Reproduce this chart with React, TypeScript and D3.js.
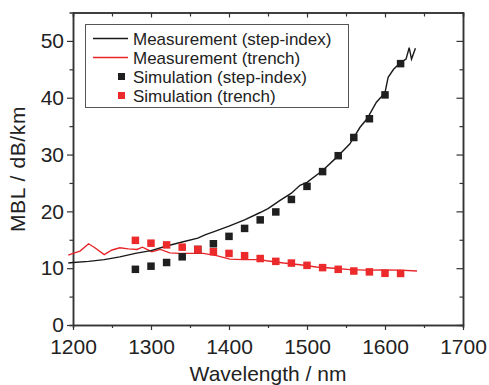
// App.tsx
import { useEffect, useRef } from "react";
import * as d3 from "d3";

// measured curve, step-index fibre
const stepMeasWl = [1194, 1200, 1220, 1240, 1260, 1280, 1300, 1320, 1340, 1360, 1370, 1380, 1400, 1420, 1440, 1450, 1465, 1480, 1491, 1500, 1520, 1538, 1555, 1568, 1577, 1589, 1600, 1604, 1611, 1620, 1627, 1631, 1634, 1639];
const stepMeasVal = [10.9, 11.0, 11.2, 11.5, 12.0, 12.6, 13.1, 13.9, 14.6, 15.3, 15.9, 16.4, 17.4, 18.5, 19.8, 20.5, 21.9, 23.2, 24.6, 25.1, 27.2, 29.5, 31.9, 34.8, 36.3, 39.2, 40.9, 43.6, 45.0, 46.2, 46.8, 48.8, 46.8, 48.7];

// measured curve, trench fibre
const trenchMeasWl = [1194, 1200, 1209, 1220, 1228, 1240, 1250, 1260, 1271, 1282, 1289, 1301, 1312, 1324, 1337, 1354, 1367, 1384, 1401, 1418, 1440, 1448, 1470, 1491, 1512, 1534, 1555, 1576, 1598, 1619, 1641];
const trenchMeasVal = [12.3, 12.6, 13.0, 14.3, 13.6, 12.4, 13.2, 13.6, 13.4, 13.3, 13.7, 12.9, 13.3, 12.7, 12.6, 12.6, 12.6, 12.2, 11.6, 11.5, 11.5, 11.3, 10.9, 10.6, 10.2, 10.0, 9.75, 9.65, 9.7, 9.65, 9.5];

// simulation points
const simWl = [1280, 1300, 1320, 1340, 1360, 1380, 1400, 1420, 1440, 1460, 1480, 1500, 1520, 1540, 1560, 1580, 1600, 1620];
const stepSim = [9.8, 10.35, 11.0, 12.0, 13.3, 14.3, 15.6, 17.0, 18.5, 19.9, 22.1, 24.4, 27.0, 29.8, 33.0, 36.3, 40.5, 46.0];
const trenchSim = [14.9, 14.4, 14.1, 13.7, 13.3, 12.9, 12.6, 12.2, 11.7, 11.2, 10.9, 10.5, 10.1, 9.8, 9.5, 9.35, 9.1, 9.07];

const xTicks = [1200, 1300, 1400, 1500, 1600, 1700];
const yTicks = [0, 10, 20, 30, 40, 50];

const legendItems = [
    { label: "Measurement (step-index)", kind: "line", color: "#1a1a1a" },
    { label: "Measurement (trench)", kind: "line", color: "#e8262a" },
    { label: "Simulation (step-index)", kind: "square", color: "#1f1f1f" },
    { label: "Simulation (trench)", kind: "square", color: "#ec2a2c" },
];

const FONT = "'Liberation Sans', Arial, Helvetica, sans-serif";

export default function App() {
    const ref = useRef<SVGSVGElement | null>(null);

    useEffect(() => {
        const root = d3.select(ref.current);
        root.selectAll("*").remove();

        const margin = { top: 12.5, right: 26, bottom: 60, left: 73 },
            width = 489 - margin.left - margin.right,
            height = 385 - margin.top - margin.bottom;

        const svg = root
            .append("g")
            .attr("transform", `translate(${margin.left}, ${margin.top})`);

        const x = d3.scaleLinear().domain([1200, 1700]).range([0, width]);
        const y = d3.scaleLinear().domain([0, 55]).range([height, 0]);

        const axisColor = "#333";
        const minorX = d3.range(1250, 1700, 100);
        const minorY = d3.range(5, 55, 10);
        const fmt = d3.format("d");

        // bottom axis
        const bottom = svg.append("g").attr("transform", `translate(0, ${height})`);
        bottom.call(d3.axisBottom(x).tickValues(xTicks).tickFormat(fmt).tickSize(5).tickPadding(9).tickSizeOuter(0));
        bottom.append("g").call(d3.axisBottom(x).tickValues(minorX).tickSize(3).tickFormat(() => ""));
        // left axis
        const left = svg.append("g");
        left.call(d3.axisLeft(y).tickValues(yTicks).tickFormat(fmt).tickSize(6).tickPadding(3).tickSizeOuter(0));
        left.append("g").call(d3.axisLeft(y).tickValues(minorY).tickSize(3.5).tickFormat(() => ""));
        // top axis, ticks inward
        const top = svg.append("g");
        top.call(d3.axisTop(x).tickValues(xTicks).tickSize(-5).tickFormat(() => "").tickSizeOuter(0));
        top.append("g").call(d3.axisTop(x).tickValues(minorX).tickSize(-4).tickFormat(() => ""));
        // right axis, ticks inward
        const right = svg.append("g").attr("transform", `translate(${width}, 0)`);
        right.call(d3.axisRight(y).tickValues(yTicks).tickSize(-6.5).tickFormat(() => "").tickSizeOuter(0));
        right.append("g").call(d3.axisRight(y).tickValues(minorY).tickSize(-3.5).tickFormat(() => ""));

        svg.selectAll(".domain").attr("stroke", axisColor).attr("stroke-width", 1.5);
        svg.selectAll(".tick line").attr("stroke", axisColor).attr("stroke-width", 1.2);
        svg.selectAll(".tick text")
            .attr("fill", "#222")
            .style("font-family", FONT)
            .style("font-size", "21px");

        // axis titles
        svg.append("text")
            .attr("x", width / 2)
            .attr("y", height + 56)
            .attr("text-anchor", "middle")
            .style("font-family", FONT)
            .style("font-size", "21px")
            .attr("fill", "#222")
            .text("Wavelength / nm");

        svg.append("text")
            .attr("transform", `translate(${25 - margin.left}, ${169 - margin.top}) rotate(-90)`)
            .attr("text-anchor", "middle")
            .style("font-family", FONT)
            .style("font-size", "21px")
            .style("letter-spacing", "0.6px")
            .attr("fill", "#222")
            .text("MBL / dB/km");

        // measurement lines
        const line = d3.line<[number, number]>()
            .x((d) => x(d[0]))
            .y((d) => y(d[1]));

        const trenchPts = trenchMeasWl.map((w, i) => [w, trenchMeasVal[i]] as [number, number]);
        const stepPts = stepMeasWl.map((w, i) => [w, stepMeasVal[i]] as [number, number]);

        svg.append("path")
            .datum(trenchPts)
            .attr("fill", "none")
            .attr("stroke", "#e8262a")
            .attr("stroke-width", 1.4)
            .attr("d", line);

        svg.append("path")
            .datum(stepPts)
            .attr("fill", "none")
            .attr("stroke", "#1a1a1a")
            .attr("stroke-width", 1.4)
            .attr("d", line);

        // simulation squares
        const sq = 7.5;
        svg.selectAll(".sim-step")
            .data(simWl)
            .enter()
            .append("rect")
            .attr("x", (d) => x(d) - sq / 2)
            .attr("y", (d, i) => y(stepSim[i]) - sq / 2)
            .attr("width", sq)
            .attr("height", sq)
            .attr("fill", "#1f1f1f");

        svg.selectAll(".sim-trench")
            .data(simWl)
            .enter()
            .append("rect")
            .attr("x", (d) => x(d) - sq / 2)
            .attr("y", (d, i) => y(trenchSim[i]) - sq / 2)
            .attr("width", sq)
            .attr("height", sq)
            .attr("fill", "#ec2a2c");

        // legend
        const legend = root.append("g");
        legend.append("rect")
            .attr("x", 85.5)
            .attr("y", 24.5)
            .attr("width", 263)
            .attr("height", 83)
            .attr("fill", "white")
            .attr("stroke", "#555")
            .attr("stroke-width", 1);

        legendItems.forEach((item, i) => {
            const ly = 38.5 + i * 19;
            if (item.kind === "line") {
                legend.append("line")
                    .attr("x1", 93)
                    .attr("x2", 128)
                    .attr("y1", ly)
                    .attr("y2", ly)
                    .attr("stroke", item.color)
                    .attr("stroke-width", 1.4);
            } else {
                legend.append("rect")
                    .attr("x", 121.5 - 3.5)
                    .attr("y", ly - 3.5)
                    .attr("width", 7)
                    .attr("height", 7)
                    .attr("fill", item.color);
            }
            legend.append("text")
                .attr("x", 133)
                .attr("y", ly)
                .attr("dy", "0.36em")
                .style("font-family", FONT)
                .style("font-size", "17px")
                .attr("fill", "#222")
                .text(item.label);
        });
    }, []);

    return (
        <svg
            ref={ref}
            width={489}
            height={385}
            style={{ position: "absolute", left: 0, top: 0, background: "white" }}
        />
    );
}
